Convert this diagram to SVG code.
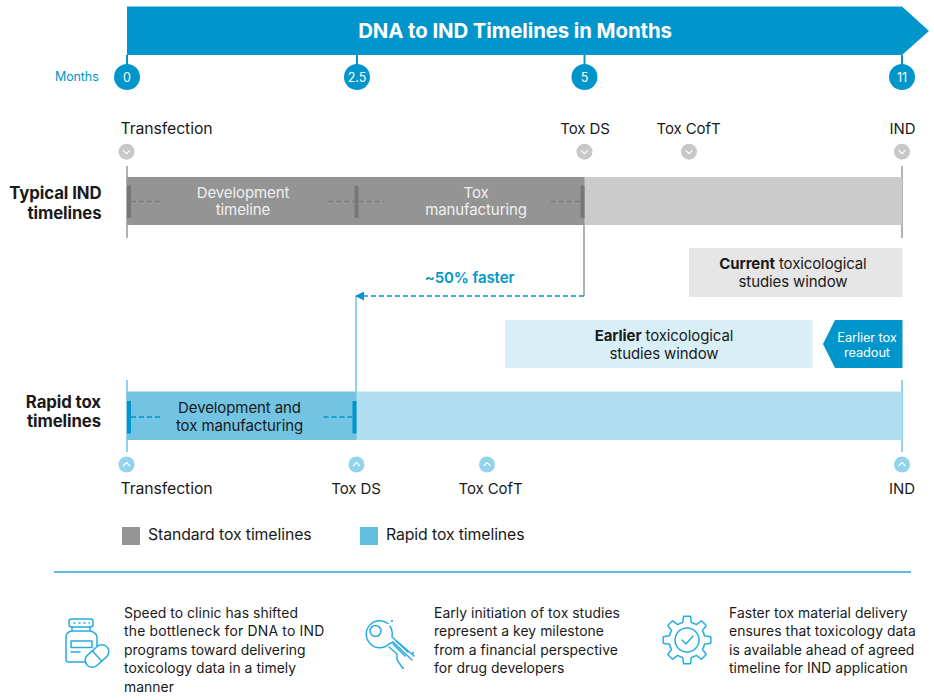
<svg xmlns="http://www.w3.org/2000/svg" width="934" height="700" viewBox="0 0 934 700">
<style>
text{font-family:"Inter","Liberation Sans",sans-serif;font-size:15px;fill:#1a1a1a;letter-spacing:-.1px}
.m{text-anchor:middle}.r{text-anchor:end}
.b{font-weight:700}.w{fill:#fff}.lt{fill:#f0f0f0}
.h{font-size:16.800px;font-weight:700}
.s{font-size:13.900px;letter-spacing:.05px}
.k{font-size:15.800px}
.tick{fill:#0096cb}
.tl{stroke:#0096cb;stroke-width:2;fill:none}
.g{fill:#c8c8c8}.c{fill:#92d4ec}
.chev{fill:none;stroke:#fff;stroke-width:1.1}
.gl{stroke:#a0a0a0;stroke-width:1.6;fill:none}
.bl{stroke:#72c8e6;stroke-width:1.6;fill:none}
.gd{stroke:#7d7d7d;stroke-width:1.3;stroke-dasharray:5 3;fill:none}
.bd{stroke:#0096cb;stroke-width:1.3;stroke-dasharray:5 3;fill:none}
.ic{fill:none;stroke:#29abe2;stroke-width:1.5;stroke-linecap:round;stroke-linejoin:round}
</style>
<defs>
<marker id="ah" markerUnits="userSpaceOnUse" markerWidth="9" markerHeight="9" refX="8" refY="4.500" orient="auto"><path d="M0 0L9 4.500L0 9Z" fill="#0096cb"/></marker>
<path id="dn" class="chev" d="M-3.5 -1.5L0 2L3.5 -1.5"/>
<path id="up" class="chev" d="M-3.5 1.5L0 -2L3.5 1.5"/>
<path id="tooth" d="M-6.89 -16.63L-4.35 -17.47L-3.34 -23.77H3.34L4.35 -17.47L6.89 -16.63"/>
</defs>
<rect width="934" height="700" fill="#fff"/>

<g id="connectors">
<path class="tl" d="M127 55V66M357 55V66M584.500 55V66M902 55V66"/>
<path class="gl" d="M127 166V238M902 166V238M584 225V296"/>
<path class="bl" d="M127 380V452M902 380V452M356 296V392"/>
<path d="M584 296H356" fill="none" stroke="#0096cb" stroke-width="1.6" stroke-dasharray="5 3" marker-end="url(#ah)"/>
</g>

<g id="banner">
<path d="M127 6.500H902L929 31L902 55H127Z" fill="#0096cb"/>
<text class="m w" x="515" y="38" style="font-size:20.400px;font-weight:700">DNA to IND Timelines in Months</text>
</g>
<g id="months"><text x="55" y="81" style="font-size:12.500px;fill:#0096cb">Months</text></g>
<g id="tick-0"><circle class="tick" cx="127" cy="77" r="13"/><text class="m w" x="127" y="81.500" style="font-size:12.500px">0</text></g>
<g id="tick-2-5"><circle class="tick" cx="357" cy="77" r="13"/><text class="m w" x="357" y="81.500" style="font-size:12.500px">2.5</text></g>
<g id="tick-5"><circle class="tick" cx="584.500" cy="77" r="13"/><text class="m w" x="584.500" y="81.500" style="font-size:12.500px">5</text></g>
<g id="tick-11"><circle class="tick" cx="902" cy="77" r="13"/><text class="m w" x="902" y="81.500" style="font-size:12.500px">11</text></g>

<g id="top-transfection"><text class="k" x="120.500" y="134">Transfection</text><circle class="g" cx="126.500" cy="151.700" r="8"/><use href="#dn" x="126.500" y="151.700"/></g>
<g id="top-tox-ds"><text class="m" x="585" y="134">Tox DS</text><circle class="g" cx="584.500" cy="151.700" r="8"/><use href="#dn" x="584.500" y="151.700"/></g>
<g id="top-tox-coft"><text class="m" x="688.500" y="134">Tox CofT</text><circle class="g" cx="689" cy="151.700" r="8"/><use href="#dn" x="689" y="151.700"/></g>
<g id="top-ind"><text class="m" x="902.500" y="134">IND</text><circle class="g" cx="902" cy="151.700" r="8"/><use href="#dn" x="902" y="151.700"/></g>

<g id="typical-label"><text class="r h" x="101.500" y="199">Typical IND</text><text class="r h" x="101.500" y="218.500">timelines</text></g>
<g id="typical-bar">
<rect x="584" y="177" width="318" height="48" fill="#cbcbcb"/>
<rect x="127" y="177" width="457.500" height="48" fill="#949494"/>
<rect x="127" y="185.500" width="4" height="32.500" fill="#777"/>
<rect x="354.500" y="185.500" width="4" height="32.500" fill="#777"/>
<rect x="580.500" y="185.500" width="4" height="32.500" fill="#777"/>
<path class="gd" d="M131 201.500H160M328 201.500H354M359 201.500H384M551 201.500H580"/>
</g>
<g id="development-timeline"><text class="m lt" x="243" y="197.500">Development</text><text class="m lt" x="243" y="215">timeline</text></g>
<g id="tox-manufacturing"><text class="m lt" x="476" y="197.500">Tox</text><text class="m lt" x="476" y="215">manufacturing</text></g>

<g id="faster"><text class="m" x="469.500" y="282.500" style="fill:#0096cb;font-weight:600">~50% faster</text></g>
<g id="current-window"><rect x="689" y="248" width="213.500" height="49" fill="#e6e6e6"/><text class="m" x="793" y="269"><tspan class="b">Current</tspan> toxicological</text><text class="m" x="793" y="286.500">studies window</text></g>
<g id="earlier-window"><rect x="505" y="320" width="307.500" height="48" fill="#d9eff8"/><text class="m" x="664" y="341"><tspan class="b">Earlier</tspan> toxicological</text><text class="m" x="664" y="359">studies window</text></g>
<g id="earlier-readout"><path d="M823 344L835 320H902.500V368H835Z" fill="#0096cb"/><text class="m w" x="867" y="341.500" style="font-size:12.800px">Earlier tox</text><text class="m w" x="867" y="356.500" style="font-size:12.800px">readout</text></g>

<g id="rapid-label"><text class="r h" x="101" y="408">Rapid tox</text><text class="r h" x="101" y="427">timelines</text></g>
<g id="rapid-bar">
<rect x="356" y="391.500" width="546" height="48.500" fill="#b0dfef"/>
<rect x="127" y="391.500" width="229.500" height="48.500" fill="#72c4e2"/>
<rect x="127" y="401" width="4" height="32.500" fill="#0096cb"/>
<rect x="352.500" y="401" width="4" height="32.500" fill="#0096cb"/>
<path class="bd" d="M131 417H160M323.500 417H352"/>
</g>
<g id="development-and-tox"><text class="m" x="239.500" y="412.500">Development and</text><text class="m" x="239.500" y="430.500">tox manufacturing</text></g>

<g id="bottom-transfection"><circle class="c" cx="126.500" cy="464.500" r="8"/><use href="#up" x="126.500" y="464.500"/><text class="k" x="120.500" y="494">Transfection</text></g>
<g id="bottom-tox-ds"><circle class="c" cx="356.500" cy="464.500" r="8"/><use href="#up" x="356.500" y="464.500"/><text class="m" x="356" y="494">Tox DS</text></g>
<g id="bottom-tox-coft"><circle class="c" cx="487" cy="464.500" r="8"/><use href="#up" x="487" y="464.500"/><text class="m" x="490.500" y="494">Tox CofT</text></g>
<g id="bottom-ind"><circle class="c" cx="902" cy="464.500" r="8"/><use href="#up" x="902" y="464.500"/><text class="m" x="902" y="494">IND</text></g>

<g id="legend-standard"><rect x="122" y="527" width="18" height="18" fill="#959595"/><text class="k" x="148" y="540">Standard tox timelines</text></g>
<g id="legend-rapid"><rect x="360" y="527" width="18" height="18" fill="#62bfe2"/><text class="k" x="386" y="540">Rapid tox timelines</text></g>

<g id="divider"><path d="M54 572H911" stroke="#29a3d3" stroke-width="1.500"/></g>

<g id="note-1">
<g class="ic">
<rect x="69" y="619" width="24" height="8" rx="2.500"/><path d="M74 623h1M79 623h1M84 623h1M89 623h.5"/>
<path d="M72 627V631H90V627M72 631Q66 632 66 637V660Q66 662 68 662H86M97 637Q96 632 90 631M97 637V646"/>
<rect x="71" y="641" width="21" height="6.500"/><path d="M71 652H80"/>
<g transform="rotate(-42 97 656)"><rect x="83.500" y="649" width="27" height="14" rx="7"/><path d="M97 649V663"/></g>
</g>
<text class="s" x="124" y="617.500">Speed to clinic has shifted</text><text class="s" x="124" y="636" style="letter-spacing:.2px">the bottleneck for DNA to IND</text><text class="s" x="124" y="654.500">programs toward delivering</text><text class="s" x="124" y="673">toxicology data in a timely</text><text class="s" x="124" y="691.500">manner</text>
</g>
<g id="note-2">
<g class="ic">
<circle cx="375.500" cy="631" r="5.500"/>
<path d="M388 623.500A13.500 13.500 0 1 0 389 644L393 642L412 660"/>
<path d="M390 626Q393 631 392 637L414 656"/>
<path d="M393 644L405 656M396 641L408 652"/>
<path d="M389 647L397 654V660L402 667"/><circle cx="392" cy="621" r=".4"/><circle cx="413" cy="653" r=".4"/><circle cx="403" cy="668" r=".4"/>
</g>
<text class="s" x="434" y="617.500">Early initiation of tox studies</text><text class="s" x="434" y="636">represent a key milestone</text><text class="s" x="434" y="654.500">from a financial perspective</text><text class="s" x="434" y="673">for drug developers</text>
</g>
<g id="note-3">
<g class="ic">
<use href="#tooth" transform="translate(687 640)"/>
<use href="#tooth" transform="translate(687 640) rotate(45)"/>
<use href="#tooth" transform="translate(687 640) rotate(90)"/>
<use href="#tooth" transform="translate(687 640) rotate(135)"/>
<use href="#tooth" transform="translate(687 640) rotate(180)"/>
<use href="#tooth" transform="translate(687 640) rotate(225)"/>
<use href="#tooth" transform="translate(687 640) rotate(270)"/>
<use href="#tooth" transform="translate(687 640) rotate(315)"/>
<circle cx="687" cy="640" r="12"/>
<path d="M682 640L686 644L693 636"/>
</g>
<text class="s" x="729" y="617.500">Faster tox material delivery</text><text class="s" x="729" y="636">ensures that toxicology data</text><text class="s" x="729" y="654.500">is available ahead of agreed</text><text class="s" x="729" y="673">timeline for IND application</text>
</g>
</svg>
